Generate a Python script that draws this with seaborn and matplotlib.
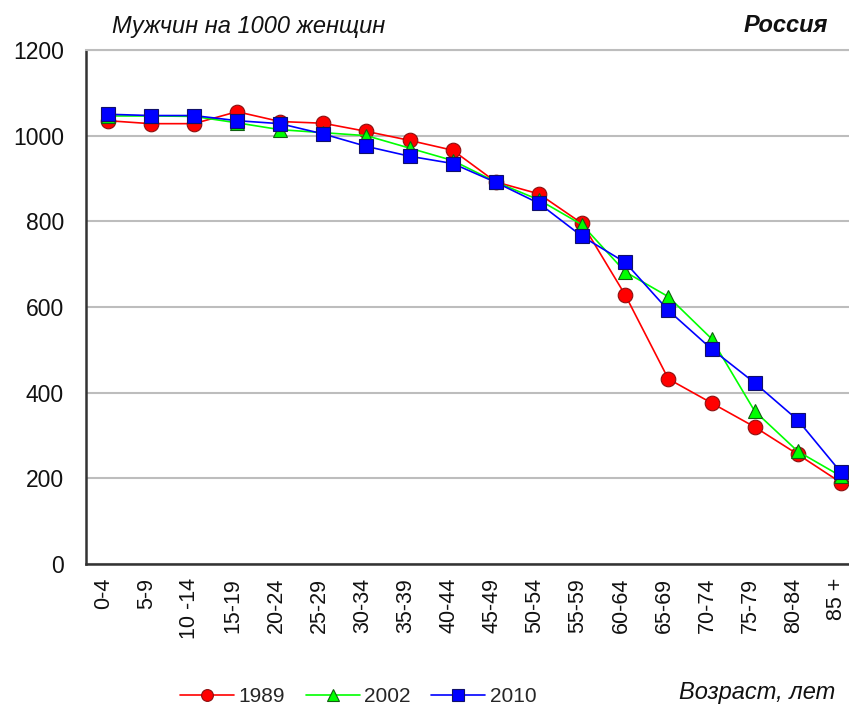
import matplotlib
matplotlib.use("Agg")
import matplotlib.pyplot as plt
import matplotlib.transforms as mtransforms
import seaborn as sns
import pandas as pd
from matplotlib.lines import Line2D

ages = ["0-4", "5-9", "10 -14", "15-19", "20-24", "25-29", "30-34", "35-39", "40-44",
        "45-49", "50-54", "55-59", "60-64", "65-69", "70-74", "75-79", "80-84", "85 +"]
v1989 = [1035, 1028, 1028, 1056, 1033, 1029, 1010, 989, 966,
         892, 864, 795, 628, 432, 376, 320, 256, 190]
v2002 = [1046, 1046, 1045, 1030, 1014, 1007, 1000, 971, 942,
         892, 850, 792, 682, 624, 526, 357, 263, 205]
v2010 = [1050, 1047, 1047, 1035, 1028, 1004, 975, 952, 935,
         891, 842, 765, 704, 592, 502, 423, 336, 214]
years = ["1989", "2002", "2010"]

sns.set_theme(style="white")
plt.rcParams['font.family'] = ['Liberation Sans', 'DejaVu Sans']

df = pd.DataFrame({
    "age": ages * 3,
    "value": v1989 + v2002 + v2010,
    "year": [years[0]] * len(ages) + [years[1]] * len(ages) + [years[2]] * len(ages),
})

fig = plt.figure(figsize=(8.49, 7.07), dpi=100)
ax = fig.add_axes([86 / 849, 1 - 564 / 707, (862.5 - 86) / 849, (564 - 50) / 707])

styles = {
    "1989": dict(color="#FF0000", marker="o", mec="#8B1010", ms=10.5),
    "2002": dict(color="#00FF00", marker="^", mec="#106010", ms=10.5),
    "2010": dict(color="#0000FF", marker="s", mec="#10106B", ms=10.5),
}
for y in years:
    st = styles[y]
    sub = df[df["year"] == y]
    sns.lineplot(data=sub, x="age", y="value", ax=ax, sort=False, color=st["color"],
                 marker=st["marker"], markersize=st["ms"], markeredgecolor=st["mec"],
                 markeredgewidth=0.8, linewidth=1.2, legend=False)

ax.set_ylim(0, 1200)
ax.set_xlim(-0.5, len(ages) - 0.5)
ax.set_yticks([0, 200, 400, 600, 800, 1000, 1200])
ax.yaxis.grid(True, color="#BDBDBD", linewidth=1.5)
ax.set_axisbelow(True)
ax.set_xlabel("")
ax.set_ylabel("")
ax.tick_params(axis="y", length=0, pad=16, labelsize=16.5, labelcolor="#111111")
ax.tick_params(axis="x", length=0, pad=10, labelsize=15.5, labelcolor="#111111")
shift = mtransforms.ScaledTranslation(-4 / 100, 0, fig.dpi_scale_trans)
for lbl in ax.get_xticklabels():
    lbl.set_rotation(90)
    lbl.set_va("top")
    lbl.set_ha("center")
    lbl.set_transform(lbl.get_transform() + shift)
for side in ["left", "bottom"]:
    ax.spines[side].set_color("#333333")
    ax.spines[side].set_linewidth(1.8)
ax.spines["top"].set_color("#BDBDBD")
ax.spines["top"].set_linewidth(1.5)
ax.spines["right"].set_visible(False)

fig.text(112 / 849, 1 - 26 / 707, "Мужчин на 1000 женщин", fontsize=17, style="italic",
         ha="left", va="center", color="#111111")
fig.text(828 / 849, 1 - 26 / 707, "Россия", fontsize=17, style="italic", weight="bold",
         ha="right", va="center", color="#111111")
fig.text(835 / 849, 1 - 693 / 707, "Возраст, лет", fontsize=17, style="italic",
         ha="right", va="center", color="#111111")

handles = [Line2D([0], [0], color=styles[y]["color"], marker=styles[y]["marker"],
                  markersize=8.5, markeredgecolor=styles[y]["mec"], markeredgewidth=0.8,
                  linewidth=1.2) for y in years]
fig.legend(handles, years, loc="center", bbox_to_anchor=(358 / 849, 1 - 697 / 707),
           ncol=3, frameon=False, fontsize=15, handlelength=2.6, handletextpad=0.2,
           columnspacing=1.0)

fig.savefig("out.png", dpi=100)
